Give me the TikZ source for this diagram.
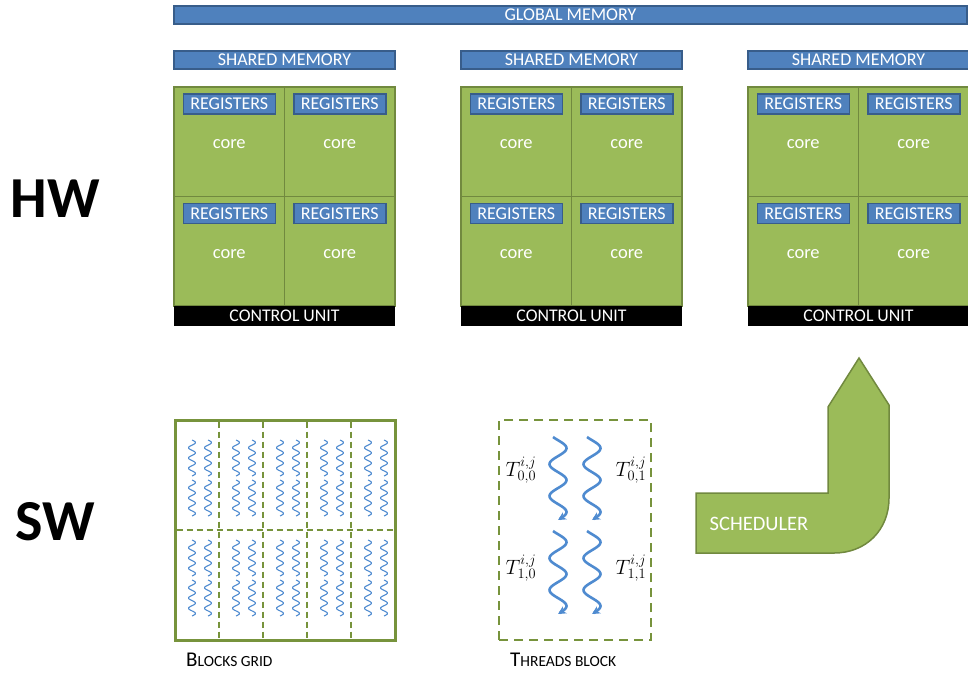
\documentclass[tikz,border=0pt]{standalone}
\usepackage{fontspec}
\setmainfont{Carlito}
\usetikzlibrary{arrows.meta}
\definecolor{memblue}{HTML}{4F81BD}
\definecolor{memborder}{HTML}{385D8A}
\definecolor{smgreen}{HTML}{9BBB59}
\definecolor{smborder}{HTML}{71893F}
\definecolor{dashgreen}{HTML}{77933C}
\definecolor{wavecol}{HTML}{4F8BD0}
\newcommand{\fs}[1]{\fontsize{#1}{#1}\selectfont}
\tikzset{
  mem/.style={draw=memborder, fill=memblue, line width=1.5pt, text=white, inner sep=0pt, font=\fs{18}},
  regbox/.style={draw=memborder, fill=memblue, line width=1.5pt, text=white, inner sep=0pt,
     minimum width=92, minimum height=20, font=\fs{18}},
  cellbox/.style={draw=smborder, fill=smgreen, line width=1.5pt, inner sep=0pt,
     minimum width=110.5, minimum height=109.5},
  coretext/.style={text=white, font=\fs{18.5}, inner sep=0pt},
  ctrl/.style={fill=black, text=white, inner sep=0pt, minimum width=221, minimum height=20, font=\fs{17.8}},
  bigtext/.style={font=\bfseries\fs{58}, inner sep=0pt},
  gridline/.style={draw=dashgreen, line width=2pt, dash pattern=on 6pt off 4pt},
  smallwave/.style={draw=wavecol, line width=1.1pt},
  bigwave/.style={draw=wavecol, line width=2.6pt, -{Stealth[length=8pt,width=8pt]}},
  tlabel/.style={font=\fs{22}, inner sep=0pt},
  caplabel/.style={font=\fs{21}, inner sep=0pt, anchor=west}
}
\begin{document}
\begin{tikzpicture}[x=1pt,y=-1pt]
\useasboundingbox (0,0) rectangle (968,673);
% global memory
\node[mem, minimum width=793, minimum height=18] (gmem) at (570.5,15) {GLOBAL MEMORY};
% SMs
\foreach \k/\xo in {0/174,1/461,2/748}{
  \node[mem, minimum width=221, minimum height=18] (shm\k) at (\xo+110.5,60) {SHARED MEMORY};
  \foreach \r in {0,1}{
    \foreach \c in {0,1}{
      \node[cellbox] (cell\k\r\c) at (\xo+\c*110.5+55.25, 87+\r*109.5+54.75) {};
      \node[regbox] (reg\k\r\c) at (\xo+\c*110.5+55.25, 87+\r*109.5+17) {REGISTERS};
      \node[coretext] (core\k\r\c) at (\xo+\c*110.5+55.25, 87+\r*109.5+57.5) {core};
    }
  }
  \node[ctrl] (cu\k) at (\xo+110.5,316) {CONTROL UNIT};
}
% HW / SW
\node[bigtext] (hw) at (55,199) {HW};
\node[bigtext] (sw) at (55,522) {SW};
% blocks grid
\node[draw=dashgreen, line width=3pt, minimum width=220, minimum height=220, inner sep=0pt] (grid) at (285,530) {};
\foreach \xx in {219,263,307,351}{
  \draw[gridline] (\xx,421.5) -- (\xx,638.5);
}
\draw[gridline] (176.5,530) -- (393.5,530);
\foreach \i in {0,...,4}{
  \foreach \dx in {17,33}{
    \foreach \ys in {440,480,540,580}{
      \draw[smallwave] plot[domain=0:1, samples=50, variable=\t]
        ({175+44*\i+\dx+3.5*sin(360*3.5*\t)}, {\ys+36*\t});
    }
  }
}
\node[caplabel] (gridlabel) at (186,660) {B{\fs{15.5}LOCKS GRID}};
% threads block
\node[draw=dashgreen, line width=2.5pt, dash pattern=on 9pt off 6pt, minimum width=152, minimum height=220, inner sep=0pt] (tblock) at (575,530) {};
\foreach \xc in {558,592}{
  \foreach \ya in {437,531}{
    \draw[bigwave] plot[domain=0.3:5.5, samples=80, variable=\t]
      ({\xc-8.5*cos(180*\t)}, {\ya+83*(\t-0.3)/5.2});
  }
}
\node[tlabel] (t00) at (521,470) {$T^{i,j}_{0,0}$};
\node[tlabel] (t01) at (631,470) {$T^{i,j}_{0,1}$};
\node[tlabel] (t10) at (521,568) {$T^{i,j}_{1,0}$};
\node[tlabel] (t11) at (631,568) {$T^{i,j}_{1,1}$};
\node[caplabel] (tblabel) at (510,660) {T{\fs{15.5}HREADS BLOCK}};
% scheduler arrow
\draw[fill=smgreen, draw=smborder, line width=1.5pt, line join=miter]
  (696,493) -- (828,493) -- (828,407) -- (859,358) -- (889,405) -- (889,498)
  .. controls (889,530) and (866,553) .. (834,553) -- (696,553) -- cycle;
\node[text=white, font=\fs{20.5}, inner sep=0pt] (sched) at (759,524) {SCHEDULER};
\end{tikzpicture}
\end{document}
